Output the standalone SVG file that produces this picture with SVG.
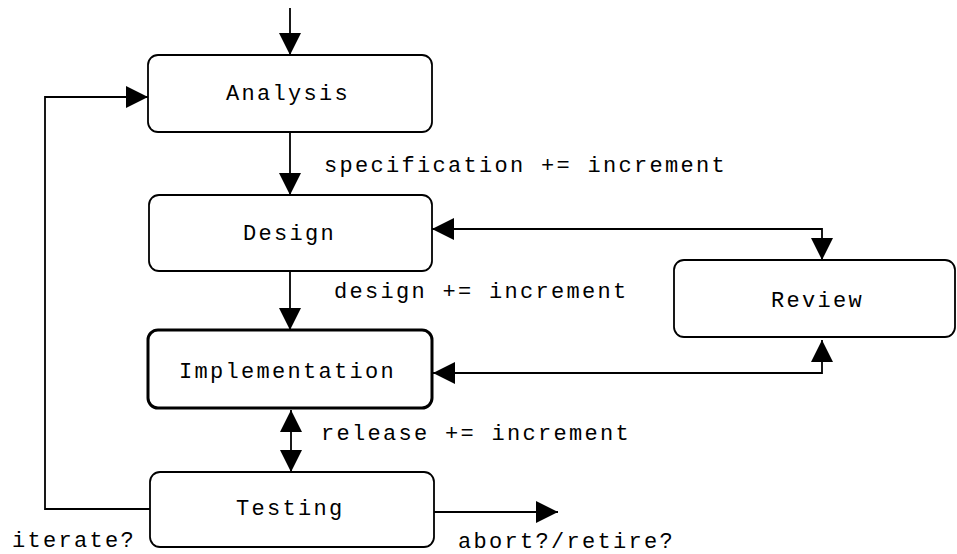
<svg xmlns="http://www.w3.org/2000/svg" width="957" height="554" viewBox="0 0 957 554">
<style>
.box{fill:#fff;stroke:#000;stroke-width:1.8}
.bold{stroke-width:3}
.lbl{font-family:"Liberation Mono","DejaVu Sans Mono",monospace;font-size:22px;letter-spacing:2.3px;fill:#000}
.edge{fill:none;stroke:#000;stroke-width:1.8}
</style>
<defs>
<marker id="ah" markerUnits="userSpaceOnUse" viewBox="0 0 22 22" refX="22" refY="11" markerWidth="22" markerHeight="22" orient="auto-start-reverse">
<path d="M0,0 L22,11 L0,22 z" fill="#000"/>
</marker>
</defs>
<rect width="957" height="554" fill="#fff"/>
<g id="connectors">
<path class="edge" d="M290,8 L290,55" marker-end="url(#ah)"/>
<path class="edge" d="M290,133 L290,195" marker-end="url(#ah)"/>
<path class="edge" d="M290,271 L290,330" marker-end="url(#ah)"/>
<path class="edge" d="M291,410 L291,472" marker-start="url(#ah)" marker-end="url(#ah)"/>
<path class="edge" d="M822,260 L822,229 L432,229" marker-start="url(#ah)" marker-end="url(#ah)"/>
<path class="edge" d="M822,340 L822,373 L433,373" marker-start="url(#ah)" marker-end="url(#ah)"/>
<path class="edge" d="M150,509 L45,509 L45,97 L148,97" marker-end="url(#ah)"/>
<path class="edge" d="M434,512 L558,512" marker-end="url(#ah)"/>
<text class="lbl" x="324" y="172">specification += increment</text>
<text class="lbl" x="334" y="298">design += increment</text>
<text class="lbl" x="321" y="440">release += increment</text>
<text class="lbl" x="12" y="547">iterate?</text>
<text class="lbl" x="458" y="548">abort?/retire?</text>
</g>
<g id="analysis">
<rect class="box" x="148" y="55" width="284" height="77" rx="10"/>
<text class="lbl" x="226" y="100">Analysis</text>
</g>
<g id="design">
<rect class="box" x="149" y="195" width="283" height="76" rx="10"/>
<text class="lbl" x="243" y="240">Design</text>
</g>
<g id="implementation">
<rect class="box bold" x="148" y="330" width="284" height="78" rx="10"/>
<text class="lbl" x="179" y="378">Implementation</text>
</g>
<g id="testing">
<rect class="box" x="150" y="472" width="284" height="75" rx="10"/>
<text class="lbl" x="236" y="515">Testing</text>
</g>
<g id="review">
<rect class="box" x="674" y="260" width="281" height="77" rx="10"/>
<text class="lbl" x="771" y="307">Review</text>
</g>
</svg>
